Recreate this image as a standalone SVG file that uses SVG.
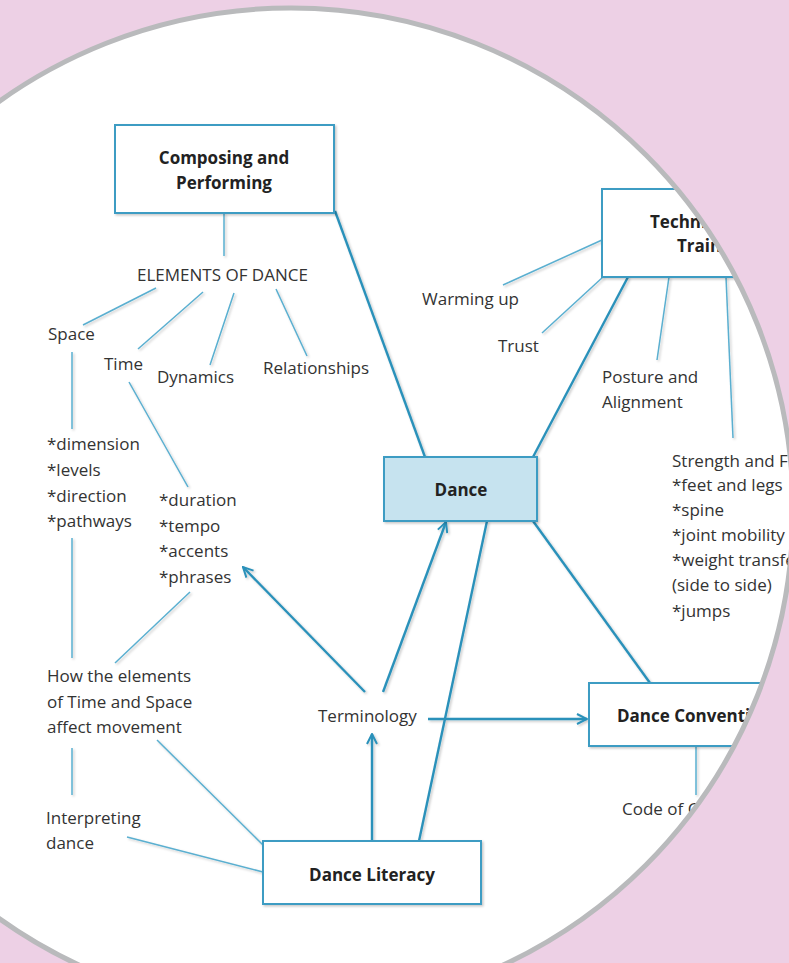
<svg xmlns="http://www.w3.org/2000/svg" width="789" height="963" viewBox="0 0 789 963">
<style>
.t{font-family:"Open Sans","Noto Sans","Liberation Sans",sans-serif;font-size:17px;fill:#333;}
.b{font-family:"Open Sans","Noto Sans","Liberation Sans",sans-serif;font-size:17px;font-weight:700;fill:#222;}
.box{fill:#fff;stroke:#3c9cc3;stroke-width:2;}
.thin{stroke:#5aafd0;stroke-width:1.5;fill:none;}
.thick{stroke:#2b91ba;stroke-width:2.4;fill:none;}
</style>
<defs>
<clipPath id="cc"><circle cx="291" cy="510" r="502"/></clipPath>
<filter id="sh" x="-10%" y="-10%" width="130%" height="130%"><feDropShadow dx="1.5" dy="1.5" stdDeviation="1.3" flood-color="#000" flood-opacity="0.22"/></filter>
<marker id="ar" viewBox="0 0 12 12" refX="11" refY="6" markerWidth="12" markerHeight="12" markerUnits="userSpaceOnUse" orient="auto"><path d="M1,1 L11,6 L1,11" fill="none" stroke="#2b91ba" stroke-width="2"/></marker>
</defs>
<rect width="789" height="963" fill="#edd0e5"/>
<circle cx="291" cy="510" r="502" fill="#fff"/>
<g clip-path="url(#cc)">
<g id="connectors" filter="url(#sh)">
<line class="thin" x1="224" y1="213" x2="224" y2="256"/>
<line class="thin" x1="156" y1="288" x2="83" y2="325"/>
<line class="thin" x1="203" y1="292" x2="138" y2="349"/>
<line class="thin" x1="234" y1="293" x2="210" y2="365"/>
<line class="thin" x1="276" y1="289" x2="307" y2="356"/>
<line class="thin" x1="72" y1="352" x2="72" y2="429"/>
<line class="thin" x1="129" y1="382" x2="188" y2="487"/>
<line class="thin" x1="72" y1="538" x2="72" y2="658"/>
<line class="thin" x1="190" y1="592" x2="115" y2="663"/>
<line class="thin" x1="72" y1="748" x2="72" y2="795"/>
<line class="thin" x1="157" y1="740" x2="263" y2="845"/>
<line class="thin" x1="127" y1="837" x2="263" y2="872"/>
<line class="thin" x1="602" y1="240" x2="503" y2="285"/>
<line class="thin" x1="603" y1="277" x2="542" y2="333"/>
<line class="thin" x1="669" y1="277" x2="657" y2="360"/>
<line class="thin" x1="726" y1="277" x2="733" y2="438"/>
<line class="thin" x1="696" y1="746" x2="696" y2="795"/>
<line class="thick" x1="335" y1="211" x2="425" y2="457"/>
<line class="thick" x1="628" y1="277" x2="533" y2="457"/>
<line class="thick" x1="533" y1="521" x2="650" y2="683"/>
<line class="thick" x1="419" y1="841" x2="487" y2="521"/>
<line class="thick" x1="372" y1="841" x2="372" y2="734" marker-end="url(#ar)"/>
<line class="thick" x1="428" y1="719" x2="587" y2="719" marker-end="url(#ar)"/>
<line class="thick" x1="365" y1="692" x2="243" y2="567" marker-end="url(#ar)"/>
<line class="thick" x1="383" y1="692" x2="446" y2="522" marker-end="url(#ar)"/>
</g>
<g id="composing"><rect class="box" x="115" y="125" width="219" height="88" filter="url(#sh)"/><text class="b" x="224" y="164" text-anchor="middle">Composing and</text><text class="b" x="224" y="189" text-anchor="middle">Performing</text></g>
<g id="technique"><rect class="box" x="602" y="189" width="218" height="88" filter="url(#sh)"/><text class="b" x="650" y="228">Technique and</text><text class="b" x="677" y="252">Training</text></g>
<g id="dance"><rect x="384" y="457" width="153" height="64" fill="#c6e3ef" stroke="#3c9cc3" stroke-width="2" filter="url(#sh)"/><text class="b" x="461" y="496" text-anchor="middle">Dance</text></g>
<g id="conventions"><rect class="box" x="589" y="683" width="218" height="63" filter="url(#sh)"/><text class="b" x="617" y="722">Dance Conventions</text></g>
<g id="literacy"><rect class="box" x="263" y="841" width="218" height="63" filter="url(#sh)"/><text class="b" x="372" y="881" text-anchor="middle">Dance Literacy</text></g>
<g id="elements"><text class="t" x="137" y="281">ELEMENTS OF DANCE</text></g>
<g id="space"><text class="t" x="48" y="340">Space</text></g>
<g id="time"><text class="t" x="104" y="370">Time</text></g>
<g id="dynamics"><text class="t" x="157" y="383">Dynamics</text></g>
<g id="relationships"><text class="t" x="263" y="374">Relationships</text></g>
<g id="spacelist"><text class="t" x="47" y="450">*dimension</text><text class="t" x="47" y="476">*levels</text><text class="t" x="47" y="502">*direction</text><text class="t" x="47" y="527">*pathways</text></g>
<g id="timelist"><text class="t" x="159" y="506">*duration</text><text class="t" x="159" y="532">*tempo</text><text class="t" x="159" y="557">*accents</text><text class="t" x="159" y="583">*phrases</text></g>
<g id="how"><text class="t" x="47" y="682">How the elements</text><text class="t" x="47" y="708">of Time and Space</text><text class="t" x="47" y="733">affect movement</text></g>
<g id="interpreting"><text class="t" x="46" y="824">Interpreting</text><text class="t" x="46" y="849">dance</text></g>
<g id="terminology"><text class="t" x="318" y="722">Terminology</text></g>
<g id="warming"><text class="t" x="422" y="305">Warming up</text></g>
<g id="trust"><text class="t" x="498" y="352">Trust</text></g>
<g id="posture"><text class="t" x="602" y="383">Posture and</text><text class="t" x="602" y="408">Alignment</text></g>
<g id="strength"><text class="t" x="672" y="467">Strength and Flexibility</text><text class="t" x="672" y="491">*feet and legs</text><text class="t" x="672" y="516">*spine</text><text class="t" x="672" y="541">*joint mobility</text><text class="t" x="672" y="566">*weight transfer</text><text class="t" x="672" y="591">(side to side)</text><text class="t" x="672" y="617">*jumps</text></g>
<g id="code"><text class="t" x="622" y="815">Code of Conduct</text></g>
</g>
<circle cx="291" cy="510" r="502" fill="none" stroke="#b9babc" stroke-width="5"/>
</svg>
